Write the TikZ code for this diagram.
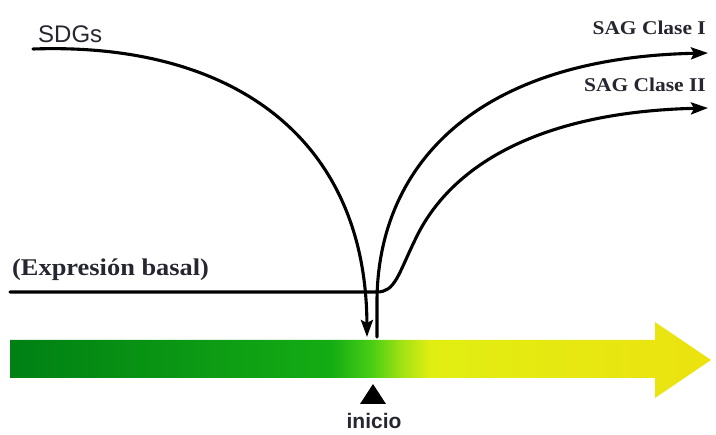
\documentclass[tikz,border=0pt]{standalone}
\usepackage{fontspec}
\usepackage{tikz}
\usepackage{xcolor}
\usetikzlibrary{arrows.meta,calc}
\setmainfont{Liberation Serif}
\newfontfamily\serifwide[FakeStretch=1.1]{Liberation Serif}
\newfontfamily\labelsans{Liberation Sans}
\definecolor{txtdark}{RGB}{38,38,48}
\definecolor{bardark}{RGB}{0,128,20}
\definecolor{barmid}{RGB}{20,172,20}
\definecolor{barlight}{RGB}{70,205,20}
\definecolor{baryg}{RGB}{160,225,20}
\definecolor{baryellow}{RGB}{225,238,18}
\definecolor{barend}{RGB}{236,226,16}
\pgfdeclarehorizontalshading{timebar}{100bp}{
  color(0bp)=(bardark); color(25bp)=(bardark);
  color(47.9bp)=(barmid); color(50.7bp)=(barlight);
  color(52.9bp)=(baryg); color(55bp)=(baryellow);
  color(75bp)=(barend); color(100bp)=(barend)}

\begin{document}
\begin{tikzpicture}[
  x=1pt, y=-1pt,
  curve/.style={line width=3.1pt, line cap=round},
  tip/.style={-{Stealth[length=17pt,width=12pt,inset=3pt]}},
  seriflbl/.style={font=\serifwide\bfseries\fontsize{19.5}{22}\selectfont, text=txtdark, inner sep=0pt},
  sanslbl/.style={font=\labelsans\fontsize{24}{28}\selectfont, text=txtdark, inner sep=0pt}
]
\useasboundingbox (0,0) rectangle (716,435);

\path[shading=timebar] (10,340) -- (655,340) -- (655,322) -- (711,360)
  -- (655,398) -- (655,378) -- (10,378) -- cycle;

\node[sanslbl, anchor=west] (sdgs) at (38,34) {SDGs};
\node[seriflbl, anchor=east] (clase1) at (706,28) {SAG Clase I};
\node[seriflbl, anchor=east] (clase2) at (706,85) {SAG Clase II};
\node[seriflbl, anchor=west, font=\serifwide\bfseries\fontsize{24}{28}\selectfont] (basal) at (12,270) {(Expresión basal)};
\node[font=\labelsans\bfseries\fontsize{21}{24}\selectfont, text=txtdark, inner sep=0pt] (inicio) at (374,421) {inicio};

\coordinate (sdgsin) at (33,49);
\coordinate (sdgsout) at (367,337);
\coordinate (c1in) at (377,337);
\coordinate (c1out) at (708,53);
\coordinate (basalin) at (10,292);
\coordinate (join) at (377,292);
\coordinate (c2out) at (708,108);

\draw[curve, tip] (sdgsin) .. controls (235,42) and (366,140) .. (sdgsout);
\draw[curve, tip] (c1in) -- (377,300) .. controls (378,170) and (470,58) .. (c1out);
\draw[curve, tip] (basalin) -- (join) .. controls (395,292) and (398,275) .. (415,240)
  .. controls (450,165) and (540,112) .. (c2out);

\fill (373,384) -- (386,404) -- (360,404) -- cycle;
\end{tikzpicture}
\end{document}
